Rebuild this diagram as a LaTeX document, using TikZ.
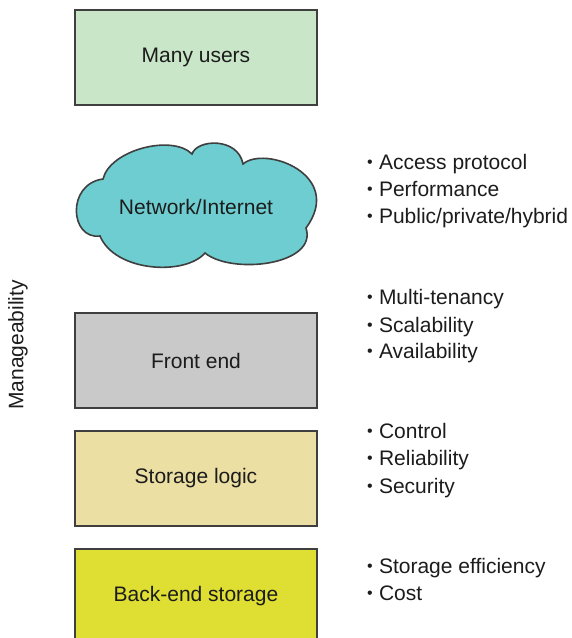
\documentclass[tikz,border=0pt]{standalone}
\usepackage{fontspec}
\setmainfont{Liberation Sans}
\definecolor{edge}{HTML}{3F3F3F}
\definecolor{usersfill}{HTML}{C9E6C8}
\definecolor{cloudfill}{HTML}{6DCDD0}
\definecolor{frontfill}{HTML}{C9C9C9}
\definecolor{logicfill}{HTML}{EBDFA3}
\definecolor{backfill}{HTML}{DEDE33}
\definecolor{ink}{HTML}{1C1C1C}
\begin{document}
\begin{tikzpicture}[x=1pt,y=-1pt,
  every node/.style={text=ink,font=\fontsize{21}{27}\selectfont},
  layer/.style={draw=edge,line width=2pt,minimum width=242pt,minimum height=95pt,inner sep=0pt},
  item/.style={anchor=base west,inner sep=0pt}]
\useasboundingbox (0,0) rectangle (571,638);
\begin{scope}
\clip (0,0) rectangle (571,638);

% stack of layers
\node[layer,fill=usersfill] (users) at (196,57) {Many users};
\node[layer,fill=frontfill] (front) at (196,360.5) {Front end};
\node[layer,fill=logicfill] (logic) at (196,478.5) {Storage logic};
\node[layer,fill=backfill]  (back)  at (196,596) {Back-end storage};

% network cloud
\draw[draw=edge,line width=1.6pt,fill=cloudfill]
  (100,236) .. controls (70,240) and (66,184) .. (103,179)
            .. controls (110,150) and (172,134) .. (192,154)
            .. controls (197,139) and (238,137) .. (243,164)
            .. controls (265,145) and (345,175) .. (306,228)
            .. controls (318,265) and (232,275) .. (205,253)
            .. controls (185,276) and (115,272) .. cycle;
\node (net) at (196,207) {Network/Internet};
\end{scope}

% side label
\node[rotate=90] (manage) at (18,345) {Manageability};

% bullet lists
\newcommand{\bitem}[1]{{\fontsize{16}{16}\selectfont\raisebox{1.2pt}{\textbullet}}\hspace{6.2pt}#1}
\node[item] (n1) at (367,169) {\bitem{Access protocol}};
\node[item] (n2) at (367,196) {\bitem{Performance}};
\node[item] (n3) at (367,223) {\bitem{Public/private/hybrid}};

\node[item] (f1) at (367,304) {\bitem{Multi-tenancy}};
\node[item] (f2) at (367,332) {\bitem{Scalability}};
\node[item] (f3) at (367,358) {\bitem{Availability}};

\node[item] (s1) at (367,438) {\bitem{Control}};
\node[item] (s2) at (367,465) {\bitem{Reliability}};
\node[item] (s3) at (367,493) {\bitem{Security}};

\node[item] (b1) at (367,573) {\bitem{Storage efficiency}};
\node[item] (b2) at (367,600) {\bitem{Cost}};
\end{tikzpicture}
\end{document}
